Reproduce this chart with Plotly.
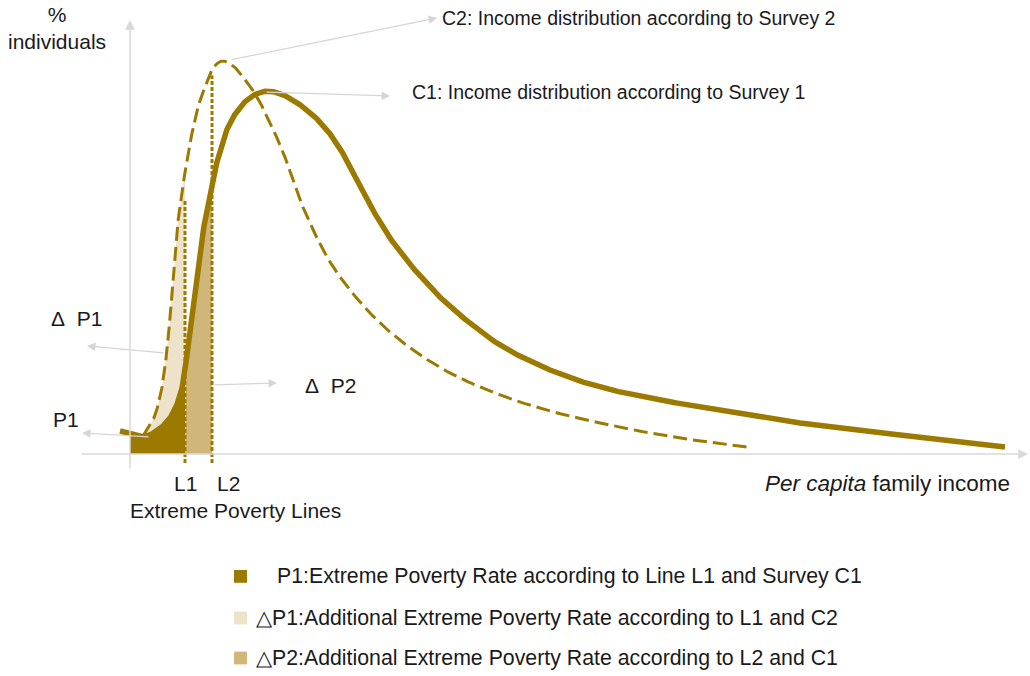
import numpy as np
import plotly.graph_objects as go

# ---------------- data ----------------
# C1: income distribution according to Survey 1 (solid)
c1_income = [-1.0, 1.3, 2.8, 4.0, 5.0, 5.6, 6.2, 6.8, 7.7, 8.7, 10.0, 11.7, 13.3, 15.0,
             17.7, 19.7, 21.5, 23.2, 26.0, 30.0, 33.0, 37.0, 42.0, 47.0, 52.0, 57.0, 67.0,
             77.0, 87.5]
c1_pct = [5.75, 4.25, 6.0, 9.0, 14.5, 23.0, 35.5, 48.0, 61.0, 73.0, 82.75, 88.5, 90.6, 90.1,
          86.0, 81.0, 74.25, 66.0, 54.0, 41.75, 34.75, 27.25, 21.0, 16.75, 14.0, 11.75, 7.75,
          4.75, 1.75]

# C2: income distribution according to Survey 2 (dashed)
c2_income = [1.3, 2.3, 3.0, 3.7, 4.3, 4.7, 5.2, 5.7, 6.2, 6.8, 7.5, 8.3, 9.2, 10.2, 11.3, 12.7,
             14.0, 15.3, 17.0, 19.7, 22.0, 25.0, 28.3, 32.0, 37.0, 42.0, 47.0, 52.0, 57.0, 61.7]
c2_pct = [4.5, 8.5, 14.25, 26.0, 44.25, 56.0, 65.5, 73.5, 80.25, 86.75, 91.75, 96.5, 98.25, 97.25,
          94.25, 89.25, 82.75, 75.5, 63.5, 49.25, 41.0, 32.75, 26.0, 20.25, 14.75, 10.75, 7.75,
          5.25, 3.25, 1.75]

# extreme poverty lines
L1 = 5.5
L2 = 8.2

legend_labels = [
    "P1:Extreme Poverty Rate according to Line L1 and Survey C1",
    "\u25b3P1:Additional Extreme Poverty Rate according to L1 and C2",
    "\u25b3P2:Additional Extreme Poverty Rate according to L2 and C1",
]

# ---------------- styling ----------------
GOLD = "#9c7a00"
BEIGE = "#ede2ca"
TAN = "#d0b679"
AXIS = "#d9d9d9"
ARROW = "#d9d3d5"
TXT = "#1a1a1a"
FONT = "Liberation Sans, Arial, sans-serif"


def catmull_rom(xs, ys, n=24, sx=10.0, sy=4.0):
    P = np.column_stack([np.asarray(xs, float) * sx, np.asarray(ys, float) * sy])
    P = np.vstack([2 * P[0] - P[1], P, 2 * P[-1] - P[-2]])
    out = []
    for i in range(1, len(P) - 2):
        p0, p1, p2, p3 = P[i - 1], P[i], P[i + 1], P[i + 2]
        t0 = 0.0
        t1 = t0 + np.linalg.norm(p1 - p0) ** 0.5
        t2 = t1 + np.linalg.norm(p2 - p1) ** 0.5
        t3 = t2 + np.linalg.norm(p3 - p2) ** 0.5
        t = np.linspace(t1, t2, n, endpoint=False)[:, None]
        A1 = (t1 - t) / (t1 - t0) * p0 + (t - t0) / (t1 - t0) * p1
        A2 = (t2 - t) / (t2 - t1) * p1 + (t - t1) / (t2 - t1) * p2
        A3 = (t3 - t) / (t3 - t2) * p2 + (t - t2) / (t3 - t2) * p3
        B1 = (t2 - t) / (t2 - t0) * A1 + (t - t0) / (t2 - t0) * A2
        B2 = (t3 - t) / (t3 - t1) * A2 + (t - t1) / (t3 - t1) * A3
        out.append((t2 - t) / (t2 - t1) * B1 + (t - t1) / (t2 - t1) * B2)
    out.append(P[-2][None, :])
    arr = np.vstack(out)
    return arr[:, 0] / sx, arr[:, 1] / sy


x1, y1 = catmull_rom(c1_income, c1_pct)
x2, y2 = catmull_rom(c2_income, c2_pct)


def at(xc, yc, xv):
    return float(np.interp(xv, xc, yc))


fig = go.Figure()

# P1 : area under C1 up to L1
m = (x1 > 0) & (x1 < L1)
fig.add_trace(go.Scatter(
    x=[0, 0] + list(x1[m]) + [L1, L1],
    y=[0, at(x1, y1, 0)] + list(y1[m]) + [at(x1, y1, L1), 0],
    fill="toself", fillcolor=GOLD, mode="lines", line=dict(width=0), hoverinfo="skip"))

# Delta P1 : between C2 and C1 up to L1
start = c2_income[0]
m2 = (x2 >= start) & (x2 < L1)
m1 = (x1 >= start) & (x1 < L1)
fig.add_trace(go.Scatter(
    x=list(x2[m2]) + [L1, L1] + list(x1[m1][::-1]),
    y=list(y2[m2]) + [at(x2, y2, L1), at(x1, y1, L1)] + list(y1[m1][::-1]),
    fill="toself", fillcolor=BEIGE, mode="lines", line=dict(width=0), hoverinfo="skip"))

# Delta P2 : under C1 between L1 and L2
m = (x1 > L1) & (x1 < L2)
fig.add_trace(go.Scatter(
    x=[L1, L1] + list(x1[m]) + [L2, L2],
    y=[0, at(x1, y1, L1)] + list(y1[m]) + [at(x1, y1, L2), 0],
    fill="toself", fillcolor=TAN, mode="lines", line=dict(width=0), hoverinfo="skip"))

# axes drawn as arrows
fig.add_annotation(x=0, y=108.5, ax=0, ay=-4, xref="x", yref="y", axref="x", ayref="y",
                   text="", showarrow=True, arrowhead=2, arrowsize=1.3, arrowwidth=1.5,
                   arrowcolor=AXIS)
fig.add_annotation(x=89.8, y=0, ax=-5, ay=0, xref="x", yref="y", axref="x", ayref="y",
                   text="", showarrow=True, arrowhead=2, arrowsize=1.3, arrowwidth=1.5,
                   arrowcolor=AXIS)

# poverty lines (dotted)
for L, top in [(L1, 63.5), (L2, at(x2, y2, L2) - 1.5)]:
    fig.add_trace(go.Scatter(x=[L, L], y=[-2.25, top], mode="lines",
                             line=dict(color=GOLD, width=3, dash="4px,2px"), hoverinfo="skip"))

# curves
fig.add_trace(go.Scatter(x=x2, y=y2, mode="lines",
                         line=dict(color=GOLD, width=3, dash="14px,6px"), hoverinfo="skip"))
fig.add_trace(go.Scatter(x=x1, y=y1, mode="lines",
                         line=dict(color=GOLD, width=5.5), hoverinfo="skip"))

# pointer arrows
pointers = [
    ((10.0, 98.5), (30.7, 109.0)),
    ((13.5, 90.5), (26.0, 89.5)),
    ((3.5, 25.25), (-4.3, 27.0)),
    ((8.3, 17.25), (14.7, 17.75)),
    ((2.0, 4.25), (-4.8, 5.25)),
]
for (tx, ty), (hx, hy) in pointers:
    fig.add_annotation(x=hx, y=hy, ax=tx, ay=ty, xref="x", yref="y", axref="x", ayref="y",
                       text="", showarrow=True, arrowhead=2, arrowsize=1.4, arrowwidth=1.2,
                       arrowcolor=ARROW)


def txt(x, y, s, size=20, anchor="left", **kw):
    fig.add_annotation(x=x, y=y, xref="x", yref="y", text=s, showarrow=False,
                       xanchor=anchor, yanchor="middle",
                       font=dict(family=FONT, size=size, color=TXT), **kw)


txt(31.0, 109.0, "C2: Income distribution according to Survey 2", size=19.5)
txt(28.0, 90.5, "C1: Income distribution according to Survey 1", size=19.5)
txt(-7.3, 106.4, "%<br>individuals", size=21, anchor="center")
txt(-5.4, 34.0, "\u0394\u00a0 P1", size=21, anchor="center")
txt(20.0, 17.25, "\u0394\u00a0 P2", size=21, anchor="center")
txt(-6.4, 8.75, "P1", size=21, anchor="center")
txt(L1, -7.25, "L1", size=21, anchor="center")
txt(L2 + 1.6, -7.25, "L2", size=21, anchor="center")
txt(10.5, -14.0, "Extreme Poverty Lines", size=21, anchor="center")
txt(88.2, -7.25, "<i>Per capita</i> family income", size=22.5, anchor="right")

# legend (drawn manually)
legend_colors = [GOLD, BEIGE, TAN]
legend_y = [-30.6, -41.0, -51.0]
legend_x = [14.5, 12.4, 12.4]
for c, yy, xx, lab in zip(legend_colors, legend_y, legend_x, legend_labels):
    fig.add_shape(type="rect", xref="x", yref="y", x0=10.4, x1=11.7, y0=yy - 1.6, y1=yy + 1.6,
                  fillcolor=c, line=dict(width=0))
    txt(xx, yy, lab, size=21.3)

fig.update_layout(
    width=1030, height=676,
    margin=dict(l=0, r=0, t=0, b=0),
    paper_bgcolor="white", plot_bgcolor="white",
    showlegend=False,
    xaxis=dict(range=[-13, 90], visible=False, fixedrange=True),
    yaxis=dict(range=[-55.5, 113.5], visible=False, fixedrange=True),
)

fig.write_html("out.html", config={"displayModeBar": False},
               post_script="document.body.style.margin='0';document.body.style.overflow='hidden';")
